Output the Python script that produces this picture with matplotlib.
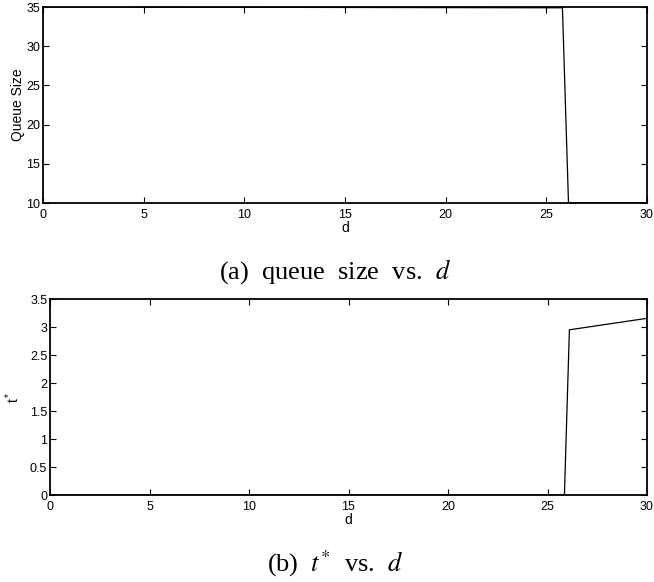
import numpy as np
import matplotlib.pyplot as plt

# data
d_queue = [0, 25.8, 26.1, 30]
queue_size = [35, 34.9, 10.05, 10.05]

d_t = [0, 25.85, 26.1, 30]
t_star = [0, 0, 2.95, 3.155]

plt.rcParams['font.family'] = ['Liberation Sans', 'DejaVu Sans']
plt.rcParams['mathtext.fontset'] = 'stix'

fig = plt.figure(figsize=(6.54, 5.82), dpi=100)
W, H = 654, 582

def make_ax(left, top, right, bottom):
    ax = fig.add_axes([left / W, 1 - bottom / H, (right - left) / W, (bottom - top) / H])
    ax.tick_params(direction='in', top=True, right=True, length=4, width=0.8, pad=2, labelsize=9)
    ax.tick_params(axis='x', pad=4)
    for s in ax.spines.values():
        s.set_linewidth(1.3)
    return ax

# (a) queue size
ax1 = make_ax(43, 7, 647, 203)
ax1.plot(d_queue, queue_size, color='black', lw=0.9)
ax1.set_xlim(0, 30)
ax1.set_ylim(10, 35)
ax1.set_xticks([0, 5, 10, 15, 20, 25, 30])
ax1.set_yticks([10, 15, 20, 25, 30, 35])
ax1.set_xlabel('d', fontsize=10, labelpad=0)
ax1.set_ylabel('Queue Size', fontsize=10, labelpad=1)

# (b) t*
ax2 = make_ax(50, 299, 647, 495)
ax2.plot(d_t, t_star, color='black', lw=0.9)
ax2.set_xlim(0, 30)
ax2.set_ylim(0, 3.5)
ax2.set_xticks([0, 5, 10, 15, 20, 25, 30])
ax2.set_yticks([0, 0.5, 1, 1.5, 2, 2.5, 3, 3.5])
ax2.set_yticklabels(['0', '0.5', '1', '1.5', '2', '2.5', '3', '3.5'])
ax2.set_xlabel('d', fontsize=10, labelpad=0)
ax2.set_ylabel(r'$\mathregular{t^*}$', fontsize=10, labelpad=6)

# captions
cap = dict(family=['Liberation Serif', 'DejaVu Serif'], fontsize=19, ha='center', va='center')
fig.text(335 / W, 1 - 272 / H, r'(a)  queue  size  vs.  $d$', **cap)
fig.text(335 / W, 1 - 564 / H, r'(b)  $t^{*}$  vs.  $d$', **cap)

fig.savefig('out.png', dpi=100)
